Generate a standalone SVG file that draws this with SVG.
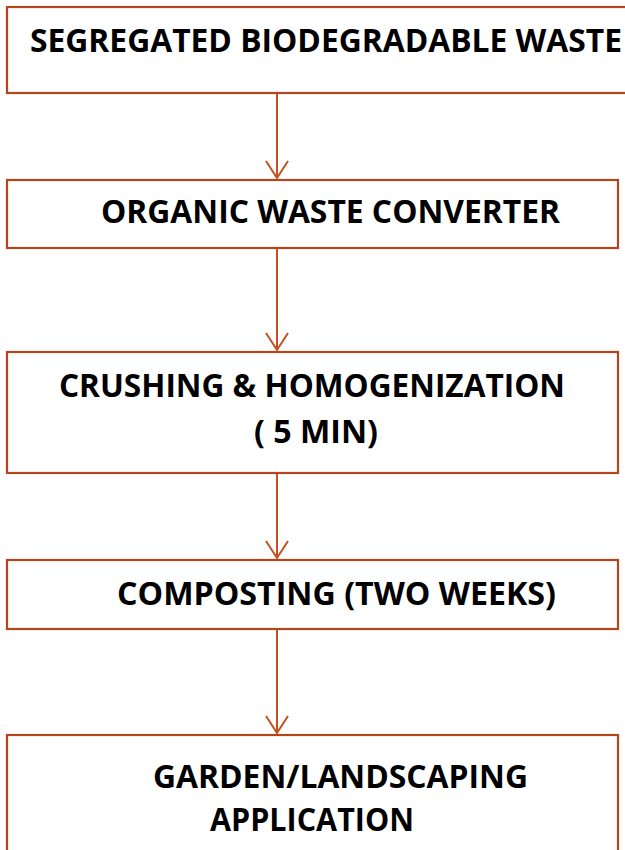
<svg xmlns="http://www.w3.org/2000/svg" width="625" height="850" viewBox="0 0 625 850">
<style>
.box{fill:#ffffff;stroke:#B5451B;stroke-width:2.2}
.lbl{font-family:"Open Sans","Liberation Sans",sans-serif;font-weight:bold;font-size:33px;fill:#000}
.conn{stroke:#C4511F;stroke-width:2;fill:none}
</style>
<rect width="625" height="850" fill="#ffffff"/>
<g id="connectors">
<line class="conn" x1="277" y1="93" x2="277" y2="178"/>
<polyline class="conn" points="266,161 277,178 288,161"/>
<line class="conn" x1="277" y1="248" x2="277" y2="350"/>
<polyline class="conn" points="266,333 277,350 288,333"/>
<line class="conn" x1="277" y1="473" x2="277" y2="558"/>
<polyline class="conn" points="266,541 277,558 288,541"/>
<line class="conn" x1="277" y1="629" x2="277" y2="733"/>
<polyline class="conn" points="266,716 277,733 288,716"/>
</g>
<g id="n1">
<rect class="box" x="7" y="7" width="630" height="86"/>
<text class="lbl" x="30" y="52" textLength="592" lengthAdjust="spacingAndGlyphs">SEGREGATED BIODEGRADABLE WASTE</text>
</g>
<g id="n2">
<rect class="box" x="7" y="180" width="611" height="68"/>
<text class="lbl" x="101" y="223" textLength="459" lengthAdjust="spacingAndGlyphs">ORGANIC WASTE CONVERTER</text>
</g>
<g id="n3">
<rect class="box" x="7" y="352" width="611" height="121"/>
<text class="lbl" x="59" y="397" textLength="506" lengthAdjust="spacingAndGlyphs">CRUSHING &amp; HOMOGENIZATION</text>
<text class="lbl" x="254" y="443" textLength="124" lengthAdjust="spacingAndGlyphs">( 5 MIN)</text>
</g>
<g id="n4">
<rect class="box" x="7" y="560" width="611" height="69"/>
<text class="lbl" x="117" y="605" textLength="439" lengthAdjust="spacingAndGlyphs">COMPOSTING (TWO WEEKS)</text>
</g>
<g id="n5">
<rect class="box" x="7" y="735" width="611" height="130"/>
<text class="lbl" x="153" y="788" textLength="375" lengthAdjust="spacingAndGlyphs">GARDEN/LANDSCAPING</text>
<text class="lbl" x="210" y="831" textLength="204" lengthAdjust="spacingAndGlyphs">APPLICATION</text>
</g>
</svg>
